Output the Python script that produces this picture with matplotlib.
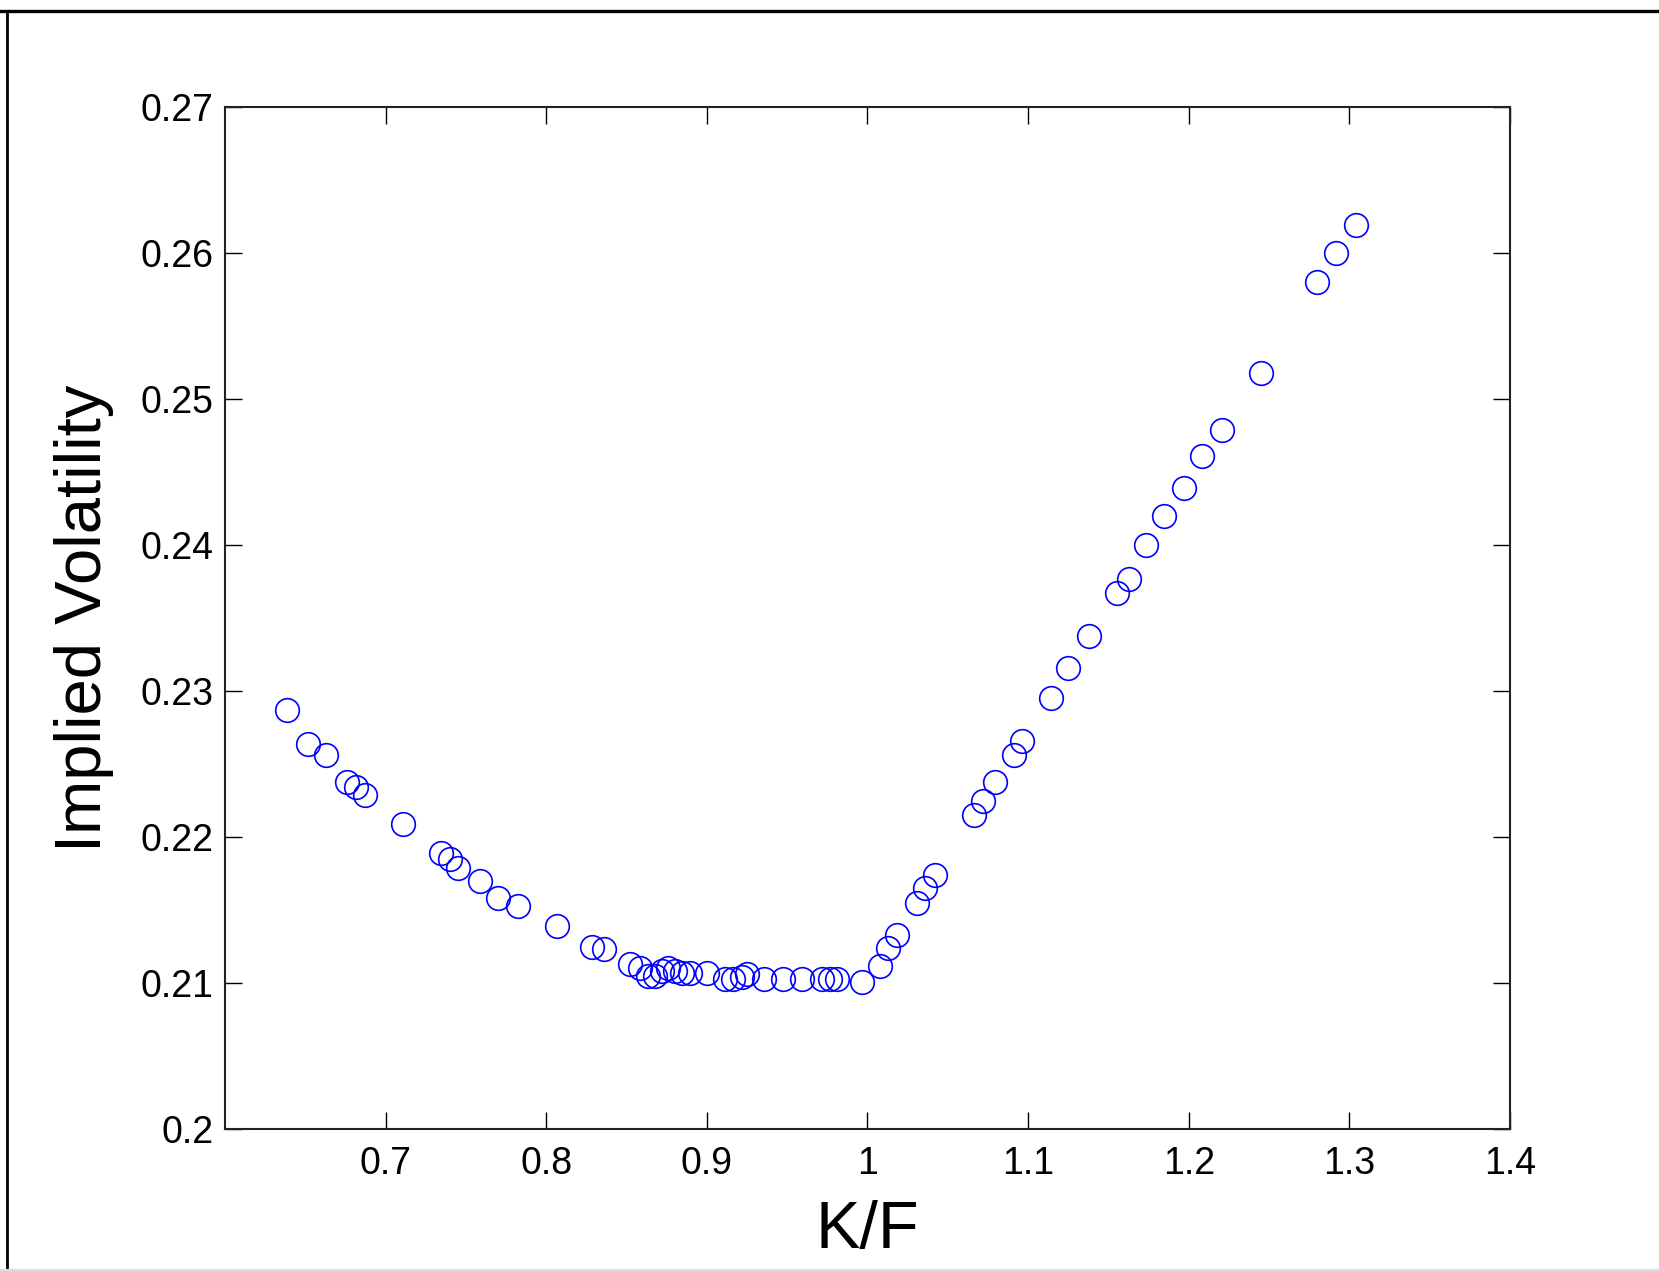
import matplotlib
matplotlib.use("Agg")
import matplotlib.pyplot as plt
from matplotlib.lines import Line2D

# -----------------------------------------------------------------------------
# Smile data: strike / forward vs implied vol
# -----------------------------------------------------------------------------
kf = [0.6388, 0.6519, 0.6629, 0.6758, 0.6814, 0.6872, 0.7110, 0.7343, 0.7401, 0.7453,
      0.7588, 0.7698, 0.7826, 0.8065, 0.8283, 0.8362, 0.8522, 0.8584, 0.8634, 0.8677,
      0.8721, 0.8758, 0.8802, 0.8846, 0.8895, 0.9001, 0.9113, 0.9163, 0.9219, 0.9250,
      0.9356, 0.9474, 0.9593, 0.9717, 0.9767, 0.9811, 0.9966, 1.0078, 1.0128, 1.0184,
      1.0309, 1.0359, 1.0421, 1.0664, 1.0722, 1.0795, 1.0909, 1.0961, 1.1141, 1.1251,
      1.1382, 1.1552, 1.1625, 1.1735, 1.1843, 1.1973, 1.2082, 1.2210, 1.2451, 1.2801,
      1.2916, 1.3040]
iv = [0.2287, 0.2264, 0.2256, 0.2238, 0.2234, 0.2229, 0.2209, 0.2189, 0.2185, 0.2179,
      0.2170, 0.2158, 0.2153, 0.2139, 0.2125, 0.2123, 0.2113, 0.2110, 0.2105, 0.2105,
      0.2108, 0.2110, 0.2108, 0.2107, 0.2107, 0.2107, 0.2103, 0.2103, 0.2104, 0.2106,
      0.2103, 0.2103, 0.2103, 0.2103, 0.2103, 0.2103, 0.2101, 0.2112, 0.2124, 0.2133,
      0.2155, 0.2165, 0.2174, 0.2215, 0.2225, 0.2238, 0.2256, 0.2266, 0.2295, 0.2316,
      0.2338, 0.2367, 0.2377, 0.2400, 0.2420, 0.2439, 0.2461, 0.2479, 0.2518, 0.2580,
      0.2600, 0.2619]

xticks = [0.7, 0.8, 0.9, 1.0, 1.1, 1.2, 1.3, 1.4]
xtick_labels = ["0.7", "0.8", "0.9", "1", "1.1", "1.2", "1.3", "1.4"]
yticks = [0.20, 0.21, 0.22, 0.23, 0.24, 0.25, 0.26, 0.27]
ytick_labels = ["0.2", "0.21", "0.22", "0.23", "0.24", "0.25", "0.26", "0.27"]

plt.rcParams["font.family"] = ["Liberation Sans", "DejaVu Sans"]

fig = plt.figure(figsize=(16.59, 12.71), dpi=100)
ax = fig.add_axes([0.1356, 0.1117, 0.9102 - 0.1356, 0.9158 - 0.1117])

ax.plot(kf, iv, "o", mfc="none", mec="#0000ff", ms=17, mew=1.2, ls="none")

ax.set_xlim(0.6, 1.4)
ax.set_ylim(0.2, 0.27)
ax.set_xticks(xticks)
ax.set_xticklabels(xtick_labels)
ax.set_yticks(yticks)
ax.set_yticklabels(ytick_labels)

ax.tick_params(direction="in", length=12, width=1.0, top=True, right=True,
               labelsize=27, pad=8)
ax.tick_params(axis="x", pad=12)
for s in ax.spines.values():
    s.set_linewidth(1.5)
    s.set_color("#222222")

ax.set_xlabel("K/F", fontsize=48, labelpad=13)
ax.set_ylabel("Implied Volatility", fontsize=47, labelpad=19)

# window frame (top and left edges)
fig.add_artist(Line2D([0, 1], [0.9913, 0.9913], transform=fig.transFigure,
                      color="black", lw=2.4))
fig.add_artist(Line2D([0.0042, 0.0042], [0, 0.9913], transform=fig.transFigure,
                      color="black", lw=2.0))
fig.add_artist(Line2D([0, 1], [0.0008, 0.0008], transform=fig.transFigure,
                      color="#dddddd", lw=1.5))

fig.savefig("out.png", dpi=100)
